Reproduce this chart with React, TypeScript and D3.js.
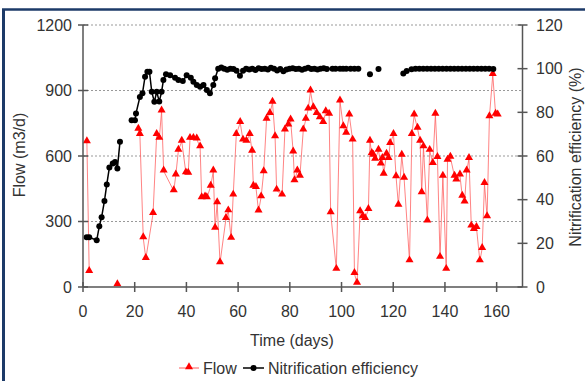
import * as d3 from "d3";

// Flow (m3/d), left axis; null = break in the line
const flowDays = [
  1.5, 2.4, null,
  13.3, null,
  21.4, 22.0, 23.3, 24.3, 27.1, 28.5, 29.5, 30.4, 31.2, 35.1, 35.9, 36.9, 38.2, 39.8, 40.7,
  41.4, 42.7, 44.0, 45.3, 45.9, 47.2, 47.9, 49.4, 50.4, 51.1, 51.9, 53.0, 55.3, 56.2, 57.3,
  58.1, 59.3, 60.8, 61.9, 63.2, 64.5, 65.4, 65.9, 66.9, 67.9, 68.9, 69.9, 71.0, 72.3, 73.3,
  74.3, 74.9, 77.0, 78.1, 79.4, 80.3, 81.3, 81.8, 82.9, 83.9, 85.2, 86.2, 87.1, 88.0, 89.1,
  90.4, 91.6, 92.9, 93.9, 95.2, 95.8, 98.0, 99.4, 100.7, 101.8, 103.0, 104.3, 105.0, 106.0,
  107.2, 108.2, 109.1, 110.4, 111.0, 111.7, 112.3, 113.0, 114.3, 115.2, 115.8, 116.3, 117.4,
  118.2, 118.8, 120.1, 121.1, 122.0, 123.3, 124.2, 126.3, 127.2, 128.1, 129.4, 130.4, 131.0,
  131.7, 133.2, 134.1, 135.3, 136.3, 137.1, 138.1, 139.2, 140.5, 141.0, 142.1, 143.7, 144.4,
  145.8, 146.7, 147.6, 148.4, 149.3, 150.2, 151.2, 152.2, 153.5, 154.4, 155.3, 156.3, 157.2,
  158.5, 159.6, 160.4,
];
const flowValues = [
  665, 70, null,
  10, null,
  722, 698, 225, 130, 336, 698, 680, 805, 531, 440, 512, 626, 667, 522, 520,
  680, 680, 677, 641, 408, 412, 408, 461, 531, 268, 385, 110, 313, 348, 222,
  420, 698, 753, 672, 667, 698, 621, 461, 455, 347, 412, 527, 768, 794, 845,
  687, 443, 420, 718, 741, 764, 618, 486, 531, 507, 718, 768, 814, 897, 820,
  794, 774, 753, 802, 790, 339, 80, 851, 733, 703, 787, 672, 61, 16,
  344, 321, 313, 354, 667, 611, 603, 584, 626, 562, 588, 516, 607,
  588, 657, 698, 504, 374, 603, 497, 119, 698, 787, 726, 667, 431,
  641, 302, 625, 565, 790, 592, 135, 507, 80, 580, 594, 507, 489,
  512, 415, 389, 531, 588, 278, 263, 272, 119, 176, 473, 321, 779,
  973, 790, 787,
];

// Nitrification efficiency (%), right axis; null = break in the line
const effDays = [
  1.4, 2.4, 5.3, 6.3, 7.2, 8.3, 9.2, 10.2, 11.5, 12.4, 13.3, 14.3, null,
  18.8, 20.1, 20.5, 22.0, 23.0, 24.0, 24.9, 25.7, 26.6, 27.6, 28.5, 29.5, 30.4, 31.1, 32.1,
  33.7, 35.6, 36.9, 38.6, 40.1, 41.7, 42.7, 44.0, 45.3, 46.6, 47.9, 49.1, 50.4, 51.1, 52.3,
  53.5, 54.6, 55.8, 57.0, 58.2, 59.4, 60.7, 61.9, 63.1, 64.3, 65.5, 66.7, 67.9, 69.1, 70.3,
  71.5, 72.7, 73.9, 75.1, 76.3, 77.5, 78.7, 79.9, 81.1, 82.3, 83.5, 84.7, 85.9, 87.1, 88.3,
  89.5, 90.7, 91.9, 93.1, 94.3, 96.5, 97.7, 99.4, 100.6, 101.8, 103.5, 105.0, 106.5, null,
  111.0, null, 114.3, null,
  123.9, 125.2, 127.1, 128.6, 130.1, 131.6, 133.1, 134.6, 136.1, 137.6, 139.1, 140.6, 142.1,
  143.6, 145.1, 146.6, 148.1, 149.6, 151.1, 152.6, 154.1, 155.6, 157.1, 158.7,
];
const effValues = [
  22.8, 22.8, 21.4, 27.8, 32, 39.4, 47, 54.7, 56.6, 57.3, 54.3, 66.5, null,
  76.4, 76.4, 79.5, 87, 88.7, 96.3, 98.6, 98.6, 89.4, 84.8, 89.4, 85, 89.4, 94.8, 97.4,
  97, 95.8, 94.8, 94.3, 97, 95.8, 94, 92.5, 91.7, 92.5, 90.2, 88.7, 92.5, 95.6, 100,
  100.5, 100, 99.5, 100, 99.8, 99, 96.8, 99, 100, 99.6, 100, 99.4, 100.2, 99.8, 100,
  99.6, 100.4, 100, 99.2, 99.8, 98.8, 99.6, 100, 100.2, 99.8, 100, 99.5, 100, 100.4, 99.8,
  100, 99.6, 100, 100.2, 99.8, 100, 100, 100, 100, 100, 100, 100, 100, null,
  97.4, null, 99.8, null,
  97.8, 98.9, 99.7, 100, 100, 100, 100, 100, 100, 100, 100, 100, 100,
  100, 100, 100, 100, 100, 100, 100, 100, 100, 100, 99.8,
];

const xTicks = [0, 20, 40, 60, 80, 100, 120, 140, 160];
const flowTicks = [0, 300, 600, 900, 1200];
const effTicks = [0, 20, 40, 60, 80, 100, 120];

const font = "'Liberation Sans', Arial, sans-serif";
const fs = 16;
const textColor = "#333";
const axisColor = "#555";

export default function App() {
  const width = 585;
  const height = 381;
  const x = d3.scaleLinear().domain([0, 170]).range([83, 522.5]);
  const yL = d3.scaleLinear().domain([0, 1200]).range([287, 25]);
  const yR = d3.scaleLinear().domain([0, 120]).range([287, 25]);

  const flowPts = flowDays.map((d, i) => ({ d, v: flowValues[i] }));
  const effPts = effDays.map((d, i) => ({ d, v: effValues[i] }));

  const flowLine = d3
    .line<{ d: number | null; v: number | null }>()
    .defined((p) => p.d !== null && p.v !== null)
    .x((p) => x(p.d as number))
    .y((p) => yL(p.v as number));
  const effLine = d3
    .line<{ d: number | null; v: number | null }>()
    .defined((p) => p.d !== null && p.v !== null)
    .x((p) => x(p.d as number))
    .y((p) => yR(p.v as number));

  const tri = d3.symbol(d3.symbolTriangle, 28)() as string;

  const [x0, x1] = x.range();
  const yBase = yL(0);

  return (
    <div style={{ position: "fixed", left: 0, top: 0, width, height, background: "#fff" }}>
      <svg width={width} height={height} style={{ display: "block" }}>
        <rect x={0} y={0} width={width} height={height} fill="#fff" />
        {/* frame edges */}
        <line x1={3.5} y1={9} x2={3.5} y2={height} stroke="#1c3a68" strokeWidth={3} />
        <line x1={2} y1={9.5} x2={width} y2={9.5} stroke="#1c3a68" strokeWidth={2.5} />

        {/* gridlines */}
        {flowTicks.filter((t) => t > 0).map((t) => (
          <line key={"g" + t} x1={x0} x2={x1} y1={yL(t)} y2={yL(t)}
            stroke="#999" strokeWidth={1} strokeDasharray="2,2" />
        ))}

        {/* series */}
        <path d={flowLine(flowPts) || ""} fill="none" stroke="#ff5a5a" strokeOpacity={0.75} strokeWidth={1} />
        {flowPts.filter((p) => p.d !== null && p.v !== null).map((p, i) => (
          <path key={"f" + i} d={tri} transform={`translate(${x(p.d as number)},${yL(p.v as number) - 1})`} fill="#ff0000" />
        ))}
        <path d={effLine(effPts) || ""} fill="none" stroke="#000" strokeWidth={1.5} />
        {effPts.filter((p) => p.d !== null && p.v !== null).map((p, i) => (
          <circle key={"e" + i} cx={x(p.d as number)} cy={yR(p.v as number)} r={3} fill="#000" />
        ))}

        {/* axes */}
        <line x1={x0} x2={x1} y1={yBase} y2={yBase} stroke={axisColor} strokeWidth={1.5} />
        <line x1={x0} x2={x0} y1={yL(1200)} y2={yBase} stroke={axisColor} strokeWidth={1.5} />
        <line x1={x1} x2={x1} y1={yR(120)} y2={yBase} stroke={axisColor} strokeWidth={1.5} />

        {xTicks.map((t) => (
          <g key={"x" + t}>
            <line x1={x(t)} x2={x(t)} y1={yBase - 5} y2={yBase + 5} stroke={axisColor} strokeWidth={1.5} />
            <text x={x(t)} y={317} textAnchor="middle" fontFamily={font} fontSize={fs} fill={textColor}>{t}</text>
          </g>
        ))}
        {flowTicks.map((t) => (
          <g key={"l" + t}>
            <line x1={x0 - 5} x2={x0 + 5} y1={yL(t)} y2={yL(t)} stroke={axisColor} strokeWidth={1.5} />
            <text x={72} y={yL(t) + 5.5} textAnchor="end" fontFamily={font} fontSize={fs} fill={textColor}>{t}</text>
          </g>
        ))}
        {effTicks.map((t) => (
          <g key={"r" + t}>
            <line x1={x1 - 5} x2={x1 + 5} y1={yR(t)} y2={yR(t)} stroke={axisColor} strokeWidth={1.5} />
            <text x={536} y={yR(t) + 5.5} textAnchor="start" fontFamily={font} fontSize={fs} fill={textColor}>{t}</text>
          </g>
        ))}

        {/* axis titles */}
        <text transform="translate(25,155) rotate(-90)" textAnchor="middle" fontFamily={font} fontSize={fs} fill={textColor}>Flow (m3/d)</text>
        <text transform="translate(581,157) rotate(-90)" textAnchor="middle" fontFamily={font} fontSize={fs} fill={textColor}>Nitrification efficiency (%)</text>
        <text x={292} y={346} textAnchor="middle" fontFamily={font} fontSize={fs} fill={textColor}>Time (days)</text>

        {/* legend */}
        <g>
          <line x1={179} x2={199} y1={368} y2={368} stroke="#ff5a5a" strokeWidth={1} />
          <path d={tri} transform="translate(189,367)" fill="#ff0000" />
          <text x={203} y={374} fontFamily={font} fontSize={fs} fill={textColor}>Flow</text>
          <line x1={243} x2={264} y1={368} y2={368} stroke="#000" strokeWidth={1.5} />
          <circle cx={253.5} cy={368} r={3} fill="#000" />
          <text x={268} y={374} fontFamily={font} fontSize={fs} fill={textColor}>Nitrification efficiency</text>
        </g>
      </svg>
    </div>
  );
}
